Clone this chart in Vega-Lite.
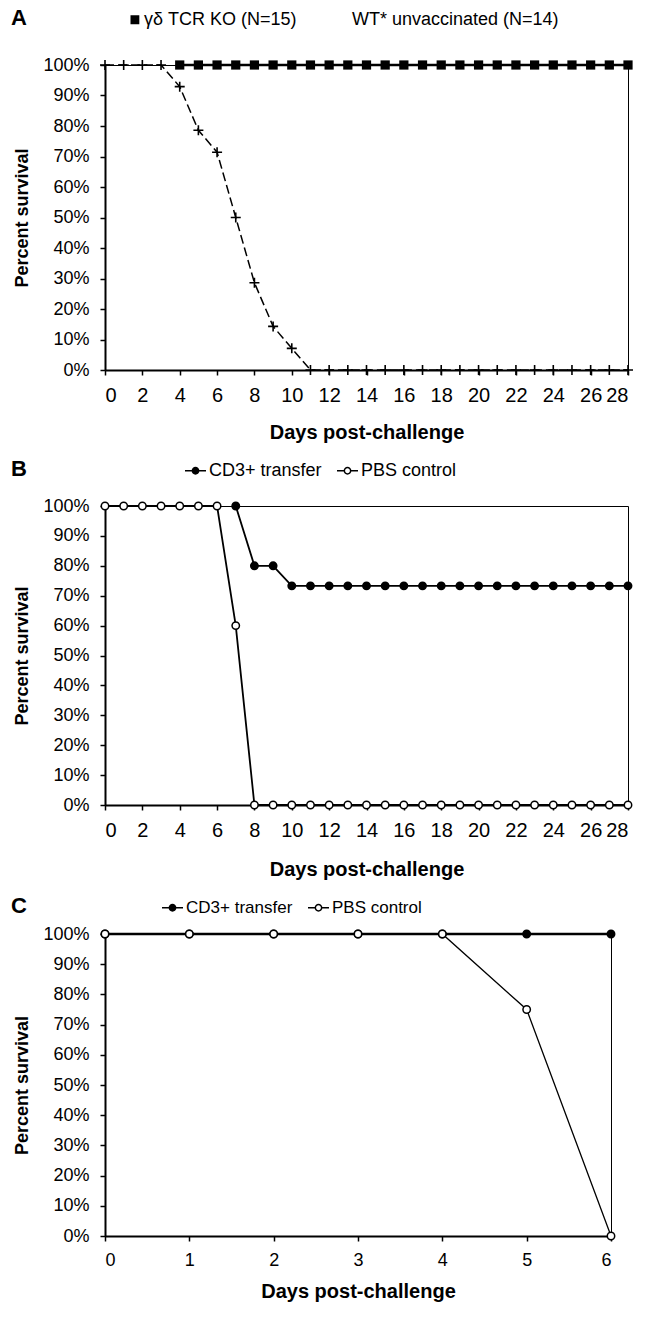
{
  "$schema": "https://vega.github.io/schema/vega-lite/v6.json",
  "background": "white",
  "padding": {"left": 10, "top": 7, "right": 6, "bottom": 4},
  "spacing": 15,
  "resolve": {
    "scale": {"shape": "independent", "fill": "independent"},
    "legend": {"shape": "independent", "fill": "independent"}
  },
  "config": {
    "font": "Liberation Sans",
    "view": {"stroke": "black", "strokeWidth": 1},
    "axis": {
      "domainColor": "black", "domainWidth": 2, "tickColor": "black", "tickWidth": 1.5, "tickSize": 5,
      "labelColor": "black", "titleColor": "black", "grid": false,
      "labelFont": "Liberation Sans", "titleFont": "Liberation Sans", "titleFontWeight": "bold"
    },
    "legend": {
      "orient": "none", "direction": "horizontal", "titleOrient": "left",
      "titleFont": "Liberation Sans", "titleFontWeight": "bold", "titleFontSize": 22, "titleColor": "black",
      "titleBaseline": "middle", "titleAnchor": "middle",
      "labelFont": "Liberation Sans", "labelColor": "black", "labelLimit": 400, "labelOffset": 2,
      "symbolSize": 441, "symbolStrokeColor": "black", "symbolStrokeWidth": 1.5
    }
  },
  "vconcat": [
    {
      "width": 523, "height": 305,
      "data": {"values": [
        {"series": "WT* unvaccinated (N=14)", "day": 0, "pct": 100},
        {"series": "WT* unvaccinated (N=14)", "day": 1, "pct": 100},
        {"series": "WT* unvaccinated (N=14)", "day": 2, "pct": 100},
        {"series": "WT* unvaccinated (N=14)", "day": 3, "pct": 100},
        {"series": "WT* unvaccinated (N=14)", "day": 4, "pct": 92.9},
        {"series": "WT* unvaccinated (N=14)", "day": 5, "pct": 78.6},
        {"series": "WT* unvaccinated (N=14)", "day": 6, "pct": 71.4},
        {"series": "WT* unvaccinated (N=14)", "day": 7, "pct": 50},
        {"series": "WT* unvaccinated (N=14)", "day": 8, "pct": 28.6},
        {"series": "WT* unvaccinated (N=14)", "day": 9, "pct": 14.3},
        {"series": "WT* unvaccinated (N=14)", "day": 10, "pct": 7.1},
        {"series": "WT* unvaccinated (N=14)", "day": 11, "pct": 0},
        {"series": "WT* unvaccinated (N=14)", "day": 12, "pct": 0},
        {"series": "WT* unvaccinated (N=14)", "day": 13, "pct": 0},
        {"series": "WT* unvaccinated (N=14)", "day": 14, "pct": 0},
        {"series": "WT* unvaccinated (N=14)", "day": 15, "pct": 0},
        {"series": "WT* unvaccinated (N=14)", "day": 16, "pct": 0},
        {"series": "WT* unvaccinated (N=14)", "day": 17, "pct": 0},
        {"series": "WT* unvaccinated (N=14)", "day": 18, "pct": 0},
        {"series": "WT* unvaccinated (N=14)", "day": 19, "pct": 0},
        {"series": "WT* unvaccinated (N=14)", "day": 20, "pct": 0},
        {"series": "WT* unvaccinated (N=14)", "day": 21, "pct": 0},
        {"series": "WT* unvaccinated (N=14)", "day": 22, "pct": 0},
        {"series": "WT* unvaccinated (N=14)", "day": 23, "pct": 0},
        {"series": "WT* unvaccinated (N=14)", "day": 24, "pct": 0},
        {"series": "WT* unvaccinated (N=14)", "day": 25, "pct": 0},
        {"series": "WT* unvaccinated (N=14)", "day": 26, "pct": 0},
        {"series": "WT* unvaccinated (N=14)", "day": 27, "pct": 0},
        {"series": "WT* unvaccinated (N=14)", "day": 28, "pct": 0},
        {"series": "γδ TCR KO (N=15)", "day": 4, "pct": 100},
        {"series": "γδ TCR KO (N=15)", "day": 5, "pct": 100},
        {"series": "γδ TCR KO (N=15)", "day": 6, "pct": 100},
        {"series": "γδ TCR KO (N=15)", "day": 7, "pct": 100},
        {"series": "γδ TCR KO (N=15)", "day": 8, "pct": 100},
        {"series": "γδ TCR KO (N=15)", "day": 9, "pct": 100},
        {"series": "γδ TCR KO (N=15)", "day": 10, "pct": 100},
        {"series": "γδ TCR KO (N=15)", "day": 11, "pct": 100},
        {"series": "γδ TCR KO (N=15)", "day": 12, "pct": 100},
        {"series": "γδ TCR KO (N=15)", "day": 13, "pct": 100},
        {"series": "γδ TCR KO (N=15)", "day": 14, "pct": 100},
        {"series": "γδ TCR KO (N=15)", "day": 15, "pct": 100},
        {"series": "γδ TCR KO (N=15)", "day": 16, "pct": 100},
        {"series": "γδ TCR KO (N=15)", "day": 17, "pct": 100},
        {"series": "γδ TCR KO (N=15)", "day": 18, "pct": 100},
        {"series": "γδ TCR KO (N=15)", "day": 19, "pct": 100},
        {"series": "γδ TCR KO (N=15)", "day": 20, "pct": 100},
        {"series": "γδ TCR KO (N=15)", "day": 21, "pct": 100},
        {"series": "γδ TCR KO (N=15)", "day": 22, "pct": 100},
        {"series": "γδ TCR KO (N=15)", "day": 23, "pct": 100},
        {"series": "γδ TCR KO (N=15)", "day": 24, "pct": 100},
        {"series": "γδ TCR KO (N=15)", "day": 25, "pct": 100},
        {"series": "γδ TCR KO (N=15)", "day": 26, "pct": 100},
        {"series": "γδ TCR KO (N=15)", "day": 27, "pct": 100},
        {"series": "γδ TCR KO (N=15)", "day": 28, "pct": 100}
      ]},
      "encoding": {
        "x": {"field": "day", "type": "quantitative", "scale": {"domain": [0, 28], "nice": false},
          "axis": {"values": [0,2,4,6,8,10,12,14,16,18,20,22,24,26,28], "labelAngle": 0, "title": "Days post-challenge",
            "labelFontSize": 20, "titleFontSize": 20, "labelPadding": 10, "titlePadding": 17}},
        "y": {"field": "pct", "type": "quantitative", "scale": {"domain": [0, 100], "nice": false},
          "axis": {"values": [0,10,20,30,40,50,60,70,80,90,100], "labelExpr": "datum.value + '%'", "title": "Percent survival",
            "labelFontSize": 18, "titleFontSize": 18, "labelPadding": 11, "titlePadding": 11}}
      },
      "layer": [
        {
          "transform": [{"filter": "datum.series === 'γδ TCR KO (N=15)'"}],
          "mark": {"type": "line", "color": "black", "strokeWidth": 2.5}
        },
        {
          "transform": [{"filter": "datum.series === 'WT* unvaccinated (N=14)'"}],
          "mark": {"type": "line", "color": "black", "strokeWidth": 1.5, "strokeDash": [9, 4]}
        },
        {
          "transform": [{"filter": "datum.series === 'WT* unvaccinated (N=14)'"}],
          "mark": {"type": "point", "shape": "M-1,0H1M0,-1V1", "filled": false, "stroke": "black", "strokeWidth": 1.6, "opacity": 1, "size": 100}
        },
        {
          "transform": [{"filter": "datum.series === 'γδ TCR KO (N=15)'"}],
          "mark": {"type": "point", "shape": "square", "filled": true, "color": "black", "opacity": 1, "size": 85}
        },
        {
          "transform": [{"filter": "datum.day < 0"}],
          "mark": {"type": "point", "stroke": "black", "strokeWidth": 1.5, "opacity": 1},
          "encoding": {
            "shape": {"field": "series", "type": "nominal",
              "scale": {"domain": ["γδ TCR KO (N=15)", "WT* unvaccinated (N=14)"],
                "range": ["M-1,0H0.1M0,-0.42H0.84V0.42H0Z", "M-1,0H-0.45M-0.3,0H0.3M0,-0.38V0.38M0.45,0H0.8"]},
              "legend": {"title": "A", "legendX": -94, "legendY": -57, "titlePadding": 92, "labelFontSize": 18, "columnPadding": 28}},
            "fill": {"field": "series", "type": "nominal",
              "scale": {"domain": ["γδ TCR KO (N=15)", "WT* unvaccinated (N=14)"], "range": ["black", "transparent"]},
              "legend": {"title": "A", "legendX": -94, "legendY": -57, "titlePadding": 92, "labelFontSize": 18, "columnPadding": 28}}
          }
        }
      ]
    },
    {
      "width": 523, "height": 299,
      "data": {"values": [
        {"series": "PBS control", "day": 0, "pct": 100},
        {"series": "PBS control", "day": 1, "pct": 100},
        {"series": "PBS control", "day": 2, "pct": 100},
        {"series": "PBS control", "day": 3, "pct": 100},
        {"series": "PBS control", "day": 4, "pct": 100},
        {"series": "PBS control", "day": 5, "pct": 100},
        {"series": "PBS control", "day": 6, "pct": 100},
        {"series": "PBS control", "day": 7, "pct": 60},
        {"series": "PBS control", "day": 8, "pct": 0},
        {"series": "PBS control", "day": 9, "pct": 0},
        {"series": "PBS control", "day": 10, "pct": 0},
        {"series": "PBS control", "day": 11, "pct": 0},
        {"series": "PBS control", "day": 12, "pct": 0},
        {"series": "PBS control", "day": 13, "pct": 0},
        {"series": "PBS control", "day": 14, "pct": 0},
        {"series": "PBS control", "day": 15, "pct": 0},
        {"series": "PBS control", "day": 16, "pct": 0},
        {"series": "PBS control", "day": 17, "pct": 0},
        {"series": "PBS control", "day": 18, "pct": 0},
        {"series": "PBS control", "day": 19, "pct": 0},
        {"series": "PBS control", "day": 20, "pct": 0},
        {"series": "PBS control", "day": 21, "pct": 0},
        {"series": "PBS control", "day": 22, "pct": 0},
        {"series": "PBS control", "day": 23, "pct": 0},
        {"series": "PBS control", "day": 24, "pct": 0},
        {"series": "PBS control", "day": 25, "pct": 0},
        {"series": "PBS control", "day": 26, "pct": 0},
        {"series": "PBS control", "day": 27, "pct": 0},
        {"series": "PBS control", "day": 28, "pct": 0},
        {"series": "CD3+ transfer", "day": 7, "pct": 100},
        {"series": "CD3+ transfer", "day": 8, "pct": 80},
        {"series": "CD3+ transfer", "day": 9, "pct": 80},
        {"series": "CD3+ transfer", "day": 10, "pct": 73.3},
        {"series": "CD3+ transfer", "day": 11, "pct": 73.3},
        {"series": "CD3+ transfer", "day": 12, "pct": 73.3},
        {"series": "CD3+ transfer", "day": 13, "pct": 73.3},
        {"series": "CD3+ transfer", "day": 14, "pct": 73.3},
        {"series": "CD3+ transfer", "day": 15, "pct": 73.3},
        {"series": "CD3+ transfer", "day": 16, "pct": 73.3},
        {"series": "CD3+ transfer", "day": 17, "pct": 73.3},
        {"series": "CD3+ transfer", "day": 18, "pct": 73.3},
        {"series": "CD3+ transfer", "day": 19, "pct": 73.3},
        {"series": "CD3+ transfer", "day": 20, "pct": 73.3},
        {"series": "CD3+ transfer", "day": 21, "pct": 73.3},
        {"series": "CD3+ transfer", "day": 22, "pct": 73.3},
        {"series": "CD3+ transfer", "day": 23, "pct": 73.3},
        {"series": "CD3+ transfer", "day": 24, "pct": 73.3},
        {"series": "CD3+ transfer", "day": 25, "pct": 73.3},
        {"series": "CD3+ transfer", "day": 26, "pct": 73.3},
        {"series": "CD3+ transfer", "day": 27, "pct": 73.3},
        {"series": "CD3+ transfer", "day": 28, "pct": 73.3}
      ]},
      "encoding": {
        "x": {"field": "day", "type": "quantitative", "scale": {"domain": [0, 28], "nice": false},
          "axis": {"values": [0,2,4,6,8,10,12,14,16,18,20,22,24,26,28], "labelAngle": 0, "title": "Days post-challenge",
            "labelFontSize": 20, "titleFontSize": 20, "labelPadding": 10, "titlePadding": 19}},
        "y": {"field": "pct", "type": "quantitative", "scale": {"domain": [0, 100], "nice": false},
          "axis": {"values": [0,10,20,30,40,50,60,70,80,90,100], "labelExpr": "datum.value + '%'", "title": "Percent survival",
            "labelFontSize": 18, "titleFontSize": 18, "labelPadding": 11, "titlePadding": 11}}
      },
      "layer": [
        {
          "mark": {"type": "line", "color": "black", "strokeWidth": 1.8},
          "encoding": {"detail": {"field": "series", "type": "nominal"}}
        },
        {
          "mark": {"type": "point", "stroke": "black", "strokeWidth": 1.5, "opacity": 1, "size": 55},
          "encoding": {
            "fill": {"field": "series", "type": "nominal",
              "scale": {"domain": ["CD3+ transfer", "PBS control"], "range": ["black", "white"]},
              "legend": {
                "title": "B", "legendX": -94, "legendY": -47, "titlePadding": 157, "labelFontSize": 18, "columnPadding": 12,
                "symbolType": "M-1,0H-0.3M0.3,0H1M0.3,0A0.3,0.3 0 1 1 -0.3,0A0.3,0.3 0 1 1 0.3,0Z"
              }}
          }
        }
      ]
    },
    {
      "width": 506, "height": 302,
      "data": {"values": [
        {"series": "CD3+ transfer", "day": 0, "pct": 100},
        {"series": "CD3+ transfer", "day": 1, "pct": 100},
        {"series": "CD3+ transfer", "day": 2, "pct": 100},
        {"series": "CD3+ transfer", "day": 3, "pct": 100},
        {"series": "CD3+ transfer", "day": 4, "pct": 100},
        {"series": "CD3+ transfer", "day": 5, "pct": 100},
        {"series": "CD3+ transfer", "day": 6, "pct": 100},
        {"series": "PBS control", "day": 0, "pct": 100},
        {"series": "PBS control", "day": 1, "pct": 100},
        {"series": "PBS control", "day": 2, "pct": 100},
        {"series": "PBS control", "day": 3, "pct": 100},
        {"series": "PBS control", "day": 4, "pct": 100},
        {"series": "PBS control", "day": 5, "pct": 75},
        {"series": "PBS control", "day": 6, "pct": 0}
      ]},
      "encoding": {
        "x": {"field": "day", "type": "quantitative", "scale": {"domain": [0, 6], "nice": false},
          "axis": {"values": [0,1,2,3,4,5,6], "labelAngle": 0, "title": "Days post-challenge",
            "labelFontSize": 18, "titleFontSize": 20, "labelPadding": 10, "titlePadding": 12}},
        "y": {"field": "pct", "type": "quantitative", "scale": {"domain": [0, 100], "nice": false},
          "axis": {"values": [0,10,20,30,40,50,60,70,80,90,100], "labelExpr": "datum.value + '%'", "title": "Percent survival",
            "labelFontSize": 18, "titleFontSize": 18, "labelPadding": 11, "titlePadding": 11}}
      },
      "layer": [
        {
          "transform": [{"filter": "datum.series === 'CD3+ transfer'"}],
          "mark": {"type": "line", "color": "black", "strokeWidth": 2.5}
        },
        {
          "transform": [{"filter": "datum.series === 'PBS control'"}],
          "mark": {"type": "line", "color": "black", "strokeWidth": 1.3}
        },
        {
          "mark": {"type": "point", "stroke": "black", "strokeWidth": 1.5, "opacity": 1, "size": 55},
          "encoding": {
            "fill": {"field": "series", "type": "nominal",
              "scale": {"domain": ["CD3+ transfer", "PBS control"], "range": ["black", "white"]},
              "legend": {
                "title": "C", "legendX": -94, "legendY": -38, "titlePadding": 134, "labelFontSize": 17, "columnPadding": 12,
                "symbolType": "M-1,0H-0.3M0.3,0H1M0.3,0A0.3,0.3 0 1 1 -0.3,0A0.3,0.3 0 1 1 0.3,0Z"
              }}
          }
        }
      ]
    }
  ]
}
